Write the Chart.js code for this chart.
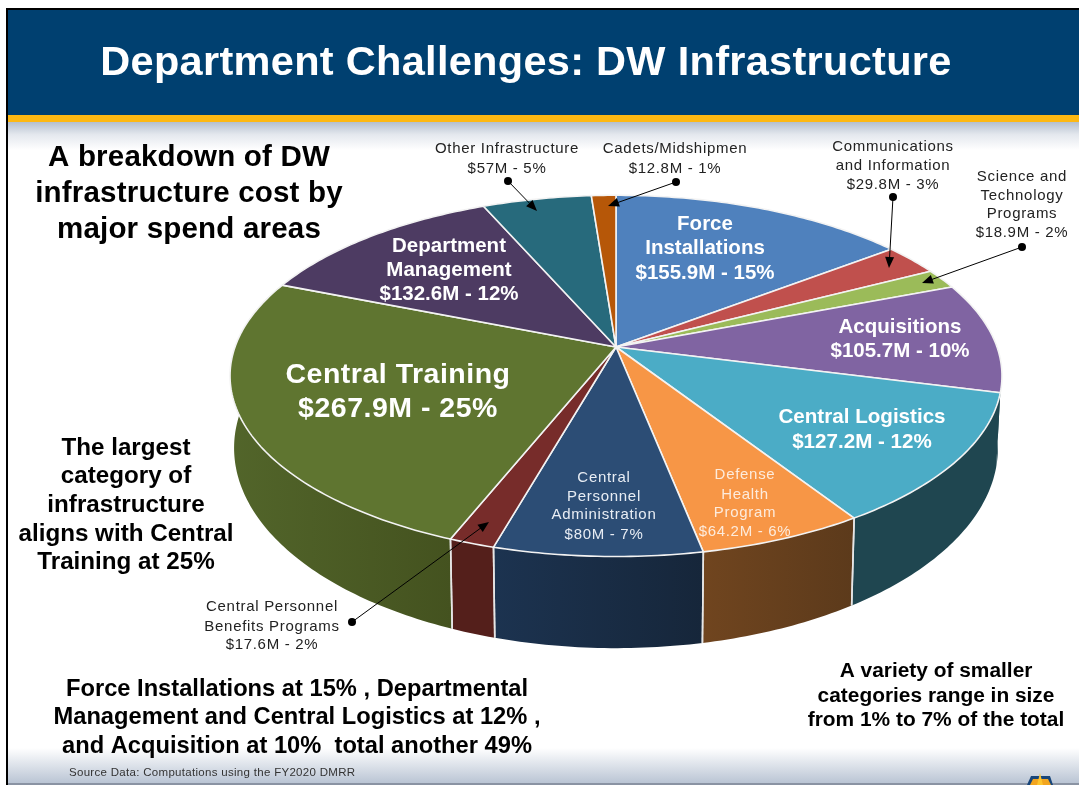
<!DOCTYPE html>
<html><head><meta charset="utf-8">
<style>html,body{margin:0;padding:0;background:#fff;overflow:hidden}canvas{display:block}</style>
<script src="https://cdn.jsdelivr.net/npm/chart.js@4/dist/chart.umd.min.js"></script>
</head><body><canvas id="c" width="1079" height="785"></canvas>
<script>
// ---- data ----
const categories = ["Force Installations","Communications and Information","Science and Technology Programs","Acquisitions","Central Logistics","Defense Health Program","Central Personnel Administration","Central Personnel Benefits Programs","Central Training","Department Management","Other Infrastructure","Cadets/Midshipmen"];
const costMillions = [155.9,29.8,18.9,105.7,127.2,64.2,80,17.6,267.9,132.6,57,12.8];
const faceColors = ["#4f81bd","#c0504d","#9bbb59","#8064a2","#4bacc6","#f79646","#2c4d75","#772c2a","#5f7530","#4d3b62","#276a7c","#b65708"];
const wallLeft  = ["#3b5f8e","#8f3c3a","#748c43","#1f4650","#1f4650","#70451f","#1c3350","#541f1b","#52652a","#3a2c49","#1d4f5d","#884106"];
const wallRight = ["#3b5f8e","#8f3c3a","#748c43","#1f4650","#1f4650","#5c3a1b","#16263a","#541f1b","#44521f","#3a2c49","#1d4f5d","#884106"];
const titleText = "Department Challenges: DW Infrastructure";
const sourceText = "Source Data: Computations using the FY2020 DMRR";
const noteTop = ["A breakdown of DW","infrastructure cost by","major spend areas"];
const noteLeft = ["The largest","category of","infrastructure","aligns with Central","Training at 25%"];
const noteBottom = ["Force Installations at 15% , Departmental","Management and Central Logistics at 12% ,","and Acquisition at 10%  total another 49%"];
const noteRight = ["A variety of smaller","categories range in size","from 1% to 7% of the total"];
const sliceText = {
  force:["Force","Installations","$155.9M - 15%"],
  comm:["Communications","and Information","$29.8M - 3%"],
  sci:["Science and","Technology","Programs","$18.9M - 2%"],
  acq:["Acquisitions","$105.7M - 10%"],
  log:["Central Logistics","$127.2M - 12%"],
  dha:["Defense","Health","Program","$64.2M - 6%"],
  cpa:["Central","Personnel","Administration","$80M - 7%"],
  cpb:["Central Personnel","Benefits Programs","$17.6M - 2%"],
  train:["Central Training","$267.9M - 25%"],
  mgmt:["Department","Management","$132.6M - 12%"],
  other:["Other Infrastructure","$57M - 5%"],
  cadet:["Cadets/Midshipmen","$12.8M - 1%"]
};

// ---- layout (not data) ----
const FONT = '"Liberation Sans", Arial, sans-serif';
const TOP = {cx:616, cy:347, rx:381, ry:176, p:0.16};
const BOT = {cx:616, cy:416, rx:377, ry:195, p:0.16};
function project(g, a){ // a = chart.js angle, -PI/2 is 12 o'clock
  const u=Math.cos(a), v=Math.sin(a), w=1-g.p*v;
  return [g.cx+g.rx*u/w, g.cy+g.ry*v/w];
}
function rim(g,a0,a1){const n=Math.max(2,Math.ceil((a1-a0)/0.015));const r=[];for(let i=0;i<=n;i++)r.push(project(g,a0+(a1-a0)*i/n));return r;}
function text(ctx,lines,x,ys,font,color,spacing){
  ctx.font=font;ctx.fillStyle=color;ctx.textAlign='center';ctx.textBaseline='middle';
  ctx.letterSpacing=(spacing||0)+'px';
  lines.forEach((l,i)=>ctx.fillText(l,x,ys[i]+1.5));
  ctx.letterSpacing='0px';
}
function leader(ctx,x0,y0,x1,y1){
  const d=Math.atan2(y1-y0,x1-x0),L=11,W=4.5;
  ctx.strokeStyle='#000';ctx.fillStyle='#000';ctx.lineWidth=1;
  ctx.beginPath();ctx.moveTo(x0,y0);ctx.lineTo(x1-Math.cos(d)*L*.7,y1-Math.sin(d)*L*.7);ctx.stroke();
  ctx.beginPath();ctx.arc(x0,y0,4,0,Math.PI*2);ctx.fill();
  ctx.beginPath();ctx.moveTo(x1,y1);
  ctx.lineTo(x1-Math.cos(d)*L-Math.sin(d)*W,y1-Math.sin(d)*L+Math.cos(d)*W);
  ctx.lineTo(x1-Math.cos(d)*L+Math.sin(d)*W,y1-Math.sin(d)*L-Math.cos(d)*W);
  ctx.closePath();ctx.fill();
}
const slide = {
  id:'slide',
  beforeDraw(chart){
    const c=chart.ctx;
    c.save();
    c.fillStyle='#fff';c.fillRect(0,0,1079,785);
    let g=c.createLinearGradient(0,122,0,150);g.addColorStop(0,'#b4bfce');g.addColorStop(.45,'#e4e8ee');g.addColorStop(1,'#ffffff');
    c.fillStyle=g;c.fillRect(7,122,1072,28);
    g=c.createLinearGradient(0,748,0,784);g.addColorStop(0,'#ffffff');g.addColorStop(1,'#b8c3d3');
    c.fillStyle=g;c.fillRect(7,748,1072,36);
    c.fillStyle='#8a93a3';c.fillRect(7,783,1072,2);
    c.fillStyle='#004070';c.fillRect(7,9,1072,106);
    c.fillStyle='#fdb813';c.fillRect(7,115,1072,7);
    c.fillStyle='#000';c.fillRect(6,8,1073,2);c.fillRect(6,8,2,777);
    // emblem, cut by the window edge
    c.beginPath();c.moveTo(1030,785);c.lineTo(1027,785);c.lineTo(1031,776);c.lineTo(1050,776);c.lineTo(1053,785);c.closePath();c.fillStyle='#17457a';c.fill();
    c.beginPath();c.moveTo(1030,785);c.lineTo(1033,779);c.lineTo(1048,779);c.lineTo(1051,785);c.closePath();c.fillStyle='#f2a51f';c.fill();
    c.beginPath();c.moveTo(1040,773);c.lineTo(1043,785);c.lineTo(1037,785);c.closePath();c.fillStyle='#fdc52f';c.fill();
    c.restore();
  },
  beforeDatasetDraw(){return false;},
  afterDatasetsDraw(chart){
    const c=chart.ctx, arcs=chart.getDatasetMeta(0).data;
    c.save();c.lineJoin='round';
    // side wall: top rim joined to bottom rim, top face covers what is behind
    arcs.forEach((el,i)=>{
      const a0=el.startAngle,a1=el.endAngle;
      const t=rim(TOP,a0,a1),b=rim(BOT,a0,a1).reverse();
      const xs=t.concat(b).map(p=>p[0]);
      const gr=c.createLinearGradient(Math.min(...xs),0,Math.max(...xs),0);
      gr.addColorStop(0,wallLeft[i]);gr.addColorStop(1,wallRight[i]);
      c.beginPath();t.concat(b).forEach((p,k)=>k?c.lineTo(p[0],p[1]):c.moveTo(p[0],p[1]));c.closePath();
      c.fillStyle=gr;c.fill();
    });
    arcs.forEach(el=>{
      [el.startAngle,el.endAngle].forEach(a=>{
        if(Math.sin(a)<0.3)return;
        const p=project(TOP,a),q=project(BOT,a);
        c.strokeStyle='#e6e6e6';c.lineWidth=1.6;c.beginPath();c.moveTo(p[0],p[1]);c.lineTo(q[0],q[1]);c.stroke();
      });
    });
    // top face
    arcs.forEach(el=>{
      const t=rim(TOP,el.startAngle,el.endAngle);
      c.beginPath();c.moveTo(TOP.cx,TOP.cy);t.forEach(p=>c.lineTo(p[0],p[1]));c.closePath();
      c.fillStyle=el.options.backgroundColor;c.fill();
      c.strokeStyle='#f3f3f3';c.lineWidth=1.6;c.stroke();
    });
    c.restore();
  },
  afterDraw(chart){
    const c=chart.ctx;c.save();
    text(c,[titleText],526,[62],'bold 41.5px '+FONT,'#fff',0.3);
    text(c,noteTop,189,[156,192,228],'bold 29.5px '+FONT,'#000',0.2);
    text(c,noteLeft,126,[447,475,504,533,561],'bold 24.2px '+FONT,'#000',0);
    text(c,noteBottom,297,[688,716,745],'bold 23.7px '+FONT,'#000',0);
    text(c,noteRight,936,[670,695,719],'bold 20.9px '+FONT,'#000',0);
    c.textAlign='left';c.font='11.5px '+FONT;c.fillStyle='#333';c.textBaseline='middle';c.letterSpacing='0.3px';c.fillText(sourceText,69,773);c.letterSpacing='0px';
    const W='#fff',S='15px '+FONT,D='#222',SP=0.7;
    text(c,sliceText.other,507,[147,167],S,D,SP);
    text(c,sliceText.cadet,675,[147,167],S,D,SP);
    text(c,sliceText.comm,893,[145,164,183],S,D,SP);
    text(c,sliceText.sci,1022,[175,194,212,231],S,D,SP);
    text(c,sliceText.cpb,272,[605,625,643],S,D,SP);
    text(c,sliceText.force,705,[223,247,272],'bold 20.5px '+FONT,W);
    text(c,sliceText.mgmt,449,[245,269,293],'bold 20.5px '+FONT,W);
    text(c,sliceText.train,398,[374,408],'bold 28.5px '+FONT,W,0.5);
    text(c,sliceText.acq,900,[326,350],'bold 20.5px '+FONT,W);
    text(c,sliceText.log,862,[416,441],'bold 20.6px '+FONT,W);
    text(c,sliceText.cpa,604,[476,495,513,533],'15px '+FONT,'#e8edf4',0.7);
    text(c,sliceText.dha,745,[473,493,511,530],'15px '+FONT,'#fdebdc',0.7);
    leader(c,508,181,537,211);
    leader(c,676,182,608,206);
    leader(c,893,197,889,268);
    leader(c,1022,247,922,283);
    leader(c,352,622,489,522);
    c.restore();
  }
};
new Chart(document.getElementById('c'),{
  type:'pie',
  data:{labels:categories,datasets:[{data:costMillions,backgroundColor:faceColors,borderWidth:0}]},
  options:{responsive:false,animation:false,rotation:0,plugins:{legend:{display:false},tooltip:{enabled:false},title:{display:false}}},
  plugins:[slide]
});
</script></body></html>
